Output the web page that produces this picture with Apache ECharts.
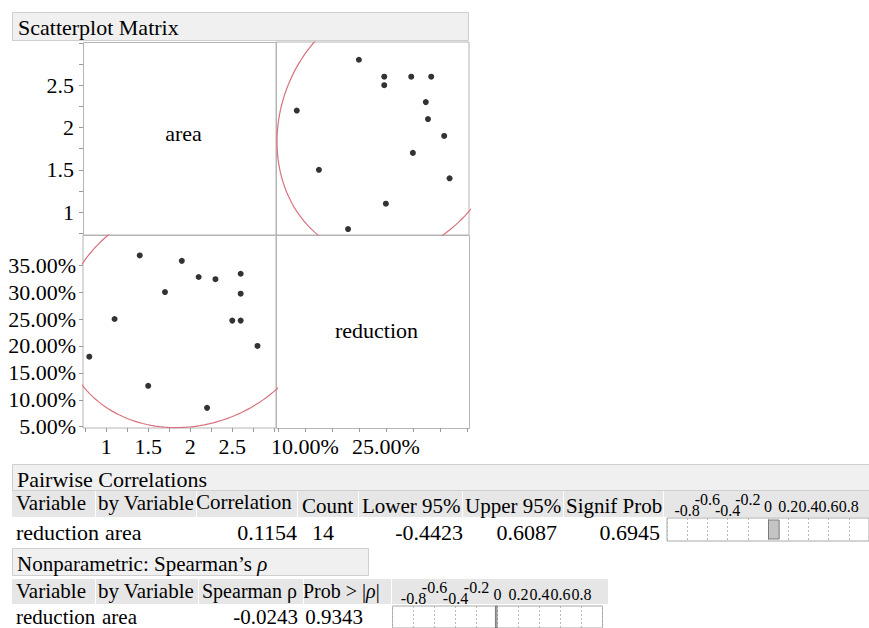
<!DOCTYPE html>
<html>
<head>
<meta charset="utf-8">
<script src="https://cdn.jsdelivr.net/npm/echarts@6/dist/echarts.min.js"></script>
<style>
  html, body { margin: 0; padding: 0; background: #fff; }
  #main { width: 869px; height: 628px; }
</style>
</head>
<body>
<div id="main"></div>
<script>
// data
var area = [0.8, 1.1, 1.4, 1.5, 1.7, 1.9, 2.1, 2.2, 2.3, 2.5, 2.6, 2.6, 2.6, 2.8];
var reduction = [18.0, 25.0, 36.8, 12.6, 30.0, 35.8, 32.8, 8.5, 32.4, 24.7, 24.7, 29.7, 33.4, 20.0];

// tick labels
var areaLabels = [1, 1.5, 2, 2.5];
var areaTicks = [0.75, 1, 1.25, 1.5, 1.75, 2, 2.25, 2.5, 2.75, 3];
var redYLabels = [5, 10, 15, 20, 25, 30, 35];
var redXLabels = [10, 25];
var redTicks = [5, 10, 15, 20, 25, 30, 35, 40];
// JMP staggers the crowded negative labels in two rows
var corrTicksLow = [-0.8, -0.4];
var corrTicksHigh = [-0.6, -0.2];
var corrTicksPos = [0, 0.2, 0.4, 0.6, 0.8];

// tables
var pairHeader = ['Variable', 'by Variable', 'Correlation', 'Count', 'Lower 95%', 'Upper 95%', 'Signif Prob'];
var pairRow = ['reduction', 'area', '0.1154', '14', '-0.4423', '0.6087', '0.6945'];
var pearson = [0.1154];
var spearHeader = ['Variable', 'by Variable', 'Spearman \u03c1', 'Prob > |{i|\u03c1}|'];
var spearRow = ['reduction', 'area', '-0.0243', '0.9343'];
var spearman = [-0.0243];

var FONT = 'Liberation Serif, Times New Roman, serif';
var GRID_LINE = '#b4b4b4';
var ELLIPSE = '#d9707e';

// 95% density ellipse of the bivariate normal fitted to (xs, ys)
function ellipse(xs, ys) {
  var n = xs.length, mx = 0, my = 0;
  for (var i = 0; i < n; i++) { mx += xs[i]; my += ys[i]; }
  mx /= n; my /= n;
  var sxx = 0, syy = 0, sxy = 0;
  for (var j = 0; j < n; j++) {
    sxx += (xs[j] - mx) * (xs[j] - mx);
    syy += (ys[j] - my) * (ys[j] - my);
    sxy += (xs[j] - mx) * (ys[j] - my);
  }
  var sx = Math.sqrt(sxx / (n - 1)), sy = Math.sqrt(syy / (n - 1));
  var r = sxy / Math.sqrt(sxx * syy);
  var c = Math.sqrt(5.991);
  var pts = [];
  for (var k = 0; k <= 180; k++) {
    var t = k / 180 * Math.PI * 2;
    pts.push([mx + c * sx * Math.cos(t),
              my + c * sy * (r * Math.cos(t) + Math.sqrt(1 - r * r) * Math.sin(t))]);
  }
  return pts;
}

function zip(a, b) {
  return a.map(function (v, i) { return [v, b[i]]; });
}

function pct(v) { return v.toFixed(2) + '%'; }

// graphic helpers
function rect(x, y, w, h, fill, stroke) {
  return { type: 'rect', z: -1, shape: { x: x, y: y, width: w, height: h },
           style: { fill: fill, stroke: stroke || null, lineWidth: stroke ? 1 : 0 } };
}
function txt(x, y, s, size, align) {
  return { type: 'text', z: 5, x: x, y: y,
           style: { text: s, fill: '#000', fontSize: size, fontFamily: FONT,
                    textAlign: align || 'left', textVerticalAlign: 'middle',
                    rich: { i: { fontStyle: 'italic', fontSize: size, fontFamily: FONT } } } };
}

var graphics = [
  // title bar
  rect(12.5, 12.5, 456, 28, '#f0f0f0', '#cfcfcf'),
  txt(18, 27, 'Scatterplot Matrix', 22),
  // diagonal cells
  rect(83.5, 42.5, 193, 193, '#fff', GRID_LINE),
  rect(276.5, 235.5, 193, 193, '#fff', GRID_LINE),
  txt(183.5, 133, 'area', 22, 'center'),
  txt(376.5, 330, 'reduction', 22, 'center'),

  // Pairwise Correlations
  rect(12.5, 464.5, 880, 26, '#f0f0f0', '#cfcfcf'),
  txt(17, 479, 'Pairwise Correlations', 22),
  rect(12, 491, 83, 26, '#e6e6e6'),
  rect(96, 491, 100, 26, '#e6e6e6'),
  rect(197, 491, 100, 26, '#e6e6e6'),
  rect(298, 491, 60, 26, '#e6e6e6'),
  rect(359, 491, 103, 26, '#e6e6e6'),
  rect(463, 491, 100, 26, '#e6e6e6'),
  rect(564, 491, 99, 26, '#e6e6e6'),
  rect(664, 491, 210, 26, '#e6e6e6'),
  txt(16, 503, pairHeader[0], 21),
  txt(98, 503, pairHeader[1], 21),
  txt(196, 502, pairHeader[2], 21),
  txt(302, 506, pairHeader[3], 21),
  txt(362, 506, pairHeader[4], 21),
  txt(465, 506, pairHeader[5], 21),
  txt(566, 506, pairHeader[6], 21),
  txt(16, 532, pairRow[0], 22),
  txt(105, 532, pairRow[1], 22),
  txt(297, 532, pairRow[2], 22, 'right'),
  txt(323, 532, pairRow[3], 22, 'center'),
  txt(463, 532, pairRow[4], 22, 'right'),
  txt(557, 532, pairRow[5], 22, 'right'),
  txt(660, 532, pairRow[6], 22, 'right'),

  // Spearman
  rect(12.5, 548.5, 356, 27, '#f0f0f0', '#cfcfcf'),
  txt(17, 564, 'Nonparametric: Spearman\u2019s {i|\u03c1}', 21),
  rect(12, 579, 83, 25, '#e6e6e6'),
  rect(96, 579, 102, 25, '#e6e6e6'),
  rect(199, 579, 104, 25, '#e6e6e6'),
  rect(304, 579, 87, 25, '#e6e6e6'),
  rect(392, 579, 216, 25, '#e6e6e6'),
  txt(16, 591, spearHeader[0], 21),
  txt(98, 591, spearHeader[1], 21),
  txt(202, 591, spearHeader[2], 20),
  txt(303, 591, spearHeader[3], 20),
  txt(16, 617, spearRow[0], 21),
  txt(102, 617, spearRow[1], 21),
  txt(298, 617, spearRow[2], 21, 'right'),
  txt(363, 617, spearRow[3], 21, 'right')
];

var axisFont = { color: '#000', fontFamily: FONT, fontSize: 22 };
var tickStyle = { show: true, length: 4, lineStyle: { color: '#9a9a9a' } };

// three stacked label rows on top of a correlation bar grid
function corrAxes(gridIndex) {
  var base = { gridIndex: gridIndex, type: 'value', min: -1, max: 1, interval: 0.2, position: 'top',
               axisLine: { show: false }, axisTick: { show: false }, splitLine: { show: false } };
  var lab = { color: '#000', fontFamily: FONT, fontSize: 16, showMinLabel: true, showMaxLabel: true };
  return [
    Object.assign({}, base, {
      splitLine: { show: true, lineStyle: { color: '#b8b8b8', type: [2, 2] } },
      axisLabel: Object.assign({ customValues: corrTicksLow, margin: 0 }, lab) }),
    Object.assign({}, base, {
      axisLabel: Object.assign({ customValues: corrTicksHigh, margin: 11 }, lab) }),
    Object.assign({}, base, {
      axisLabel: Object.assign({ customValues: corrTicksPos, margin: 4 }, lab) })
  ];
}

var option = {
  backgroundColor: '#ffffff',
  animation: false,
  graphic: graphics,
  grid: [
    // top-right: x = reduction, y = area
    { left: 276, top: 42, width: 193, height: 193, show: true, borderColor: GRID_LINE, backgroundColor: 'transparent' },
    // bottom-left: x = area, y = reduction
    { left: 83, top: 235, width: 193, height: 193, show: true, borderColor: GRID_LINE, backgroundColor: 'transparent' },
    // correlation bars
    { left: 667, top: 518, width: 213, height: 23, show: true, borderColor: '#a8a8a8', backgroundColor: '#fff' },
    { left: 392.5, top: 606, width: 210, height: 30, show: true, borderColor: '#a8a8a8', backgroundColor: '#fff' }
  ],
  xAxis: [
    { gridIndex: 0, type: 'value', min: 4.65, max: 40.4, position: 'bottom', offset: 193,
      axisLine: { show: false }, splitLine: { show: false },
      axisTick: Object.assign({ customValues: redTicks }, tickStyle),
      axisLabel: Object.assign({ customValues: redXLabels, margin: 7, formatter: pct }, axisFont) },
    { gridIndex: 1, type: 'value', min: 0.725, max: 3.02, position: 'bottom',
      axisLine: { show: false }, splitLine: { show: false },
      axisTick: Object.assign({ customValues: areaTicks }, tickStyle),
      axisLabel: Object.assign({ customValues: areaLabels, margin: 7 }, axisFont) }
  ].concat(corrAxes(2), corrAxes(3)),
  yAxis: [
    { gridIndex: 0, type: 'value', min: 0.73, max: 3.01, position: 'left', offset: 193,
      axisLine: { show: false }, splitLine: { show: false },
      axisTick: Object.assign({ customValues: areaTicks }, tickStyle),
      axisLabel: Object.assign({ customValues: areaLabels, margin: 9 }, axisFont) },
    { gridIndex: 1, type: 'value', min: 4.76, max: 40.6, position: 'left',
      axisLine: { show: false }, splitLine: { show: false },
      axisTick: Object.assign({ customValues: redYLabels }, tickStyle),
      axisLabel: Object.assign({ customValues: redYLabels, margin: 7, formatter: pct }, axisFont) },
    { gridIndex: 2, type: 'category', data: ['r'], show: false },
    { gridIndex: 3, type: 'category', data: ['s'], show: false }
  ],
  series: [
    { type: 'line', xAxisIndex: 0, yAxisIndex: 0, data: ellipse(reduction, area),
      showSymbol: false, clip: true, silent: true,
      lineStyle: { color: ELLIPSE, width: 1.2 } },
    { type: 'scatter', xAxisIndex: 0, yAxisIndex: 0, data: zip(reduction, area),
      symbolSize: 6, itemStyle: { color: '#000' } },
    { type: 'line', xAxisIndex: 1, yAxisIndex: 1, data: ellipse(area, reduction),
      showSymbol: false, clip: true, silent: true,
      lineStyle: { color: ELLIPSE, width: 1.2 } },
    { type: 'scatter', xAxisIndex: 1, yAxisIndex: 1, data: zip(area, reduction),
      symbolSize: 6, itemStyle: { color: '#000' } },
    { type: 'bar', xAxisIndex: 2, yAxisIndex: 2, data: pearson, barWidth: 20,
      itemStyle: { color: '#c4c4c4', borderColor: '#7a7a7a', borderWidth: 1 } },
    { type: 'bar', xAxisIndex: 5, yAxisIndex: 3, data: spearman, barWidth: 30,
      itemStyle: { color: '#c4c4c4', borderColor: '#7a7a7a', borderWidth: 1 } }
  ]
};

var chart = echarts.init(document.getElementById('main'), null, { renderer: 'svg' });
chart.setOption(option);
</script>
</body>
</html>
